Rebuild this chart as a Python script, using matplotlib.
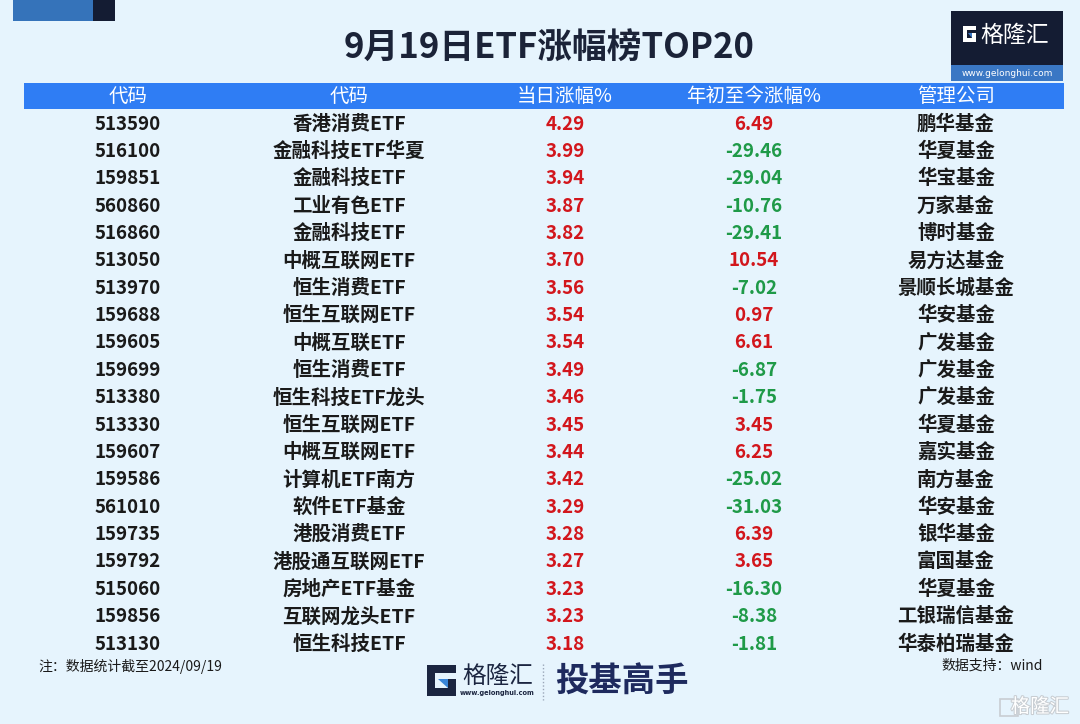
import matplotlib
matplotlib.use("Agg")
import matplotlib.pyplot as plt
from matplotlib.patches import Rectangle, Polygon
import matplotlib.patheffects as pe

plt.rcParams['font.family'] = ['Noto Sans CJK SC', 'DejaVu Sans']

title = "9月19日ETF涨幅榜TOP20"
headers = ["代码", "代码", "当日涨幅%", "年初至今涨幅%", "管理公司"]
codes = ["513590", "516100", "159851", "560860", "516860", "513050", "513970",
         "159688", "159605", "159699", "513380", "513330", "159607", "159586",
         "561010", "159735", "159792", "515060", "159856", "513130"]
names = ["香港消费ETF", "金融科技ETF华夏", "金融科技ETF", "工业有色ETF", "金融科技ETF",
         "中概互联网ETF", "恒生消费ETF", "恒生互联网ETF", "中概互联ETF", "恒生消费ETF",
         "恒生科技ETF龙头", "恒生互联网ETF", "中概互联网ETF", "计算机ETF南方", "软件ETF基金",
         "港股消费ETF", "港股通互联网ETF", "房地产ETF基金", "互联网龙头ETF", "恒生科技ETF"]
daily = [4.29, 3.99, 3.94, 3.87, 3.82, 3.70, 3.56, 3.54, 3.54, 3.49,
         3.46, 3.45, 3.44, 3.42, 3.29, 3.28, 3.27, 3.23, 3.23, 3.18]
ytd = [6.49, -29.46, -29.04, -10.76, -29.41, 10.54, -7.02, 0.97, 6.61, -6.87,
       -1.75, 3.45, 6.25, -25.02, -31.03, 6.39, 3.65, -16.30, -8.38, -1.81]
companies = ["鹏华基金", "华夏基金", "华宝基金", "万家基金", "博时基金", "易方达基金",
             "景顺长城基金", "华安基金", "广发基金", "广发基金", "广发基金", "华夏基金",
             "嘉实基金", "南方基金", "华安基金", "银华基金", "富国基金", "华夏基金",
             "工银瑞信基金", "华泰柏瑞基金"]
note = "注：数据统计截至2024/09/19"
source = "数据支持：wind"

BG = "#E6F4FD"
HEAD = "#2F7DF4"
NAVY = "#141C33"
TXT = "#1A1A1A"
RED = "#D2161C"
GREEN = "#1F9A48"

W, H = 1080, 724
fig = plt.figure(figsize=(W / 100, H / 100), dpi=100)
fig.patch.set_facecolor(BG)
ax = fig.add_axes([0, 0, 1, 1])
ax.set_xlim(0, W)
ax.set_ylim(H, 0)
ax.axis("off")
ax.set_facecolor(BG)

# top-left decoration
ax.add_patch(Rectangle((13, 0), 80, 21, color="#3573BA", lw=0))
ax.add_patch(Rectangle((93, 0), 22, 21, color=NAVY, lw=0))

# title
ax.text(549, 47, title, ha="center", va="center", fontsize=25,
        fontweight="bold", color="#1B2338")


def draw_g(x0, y0, w, h, dark, blue):
    t = 0.27 * w
    th = t * h / w
    ax.add_patch(Rectangle((x0, y0), w, th, color=dark, lw=0))
    ax.add_patch(Rectangle((x0, y0), t, h, color=dark, lw=0))
    ax.add_patch(Rectangle((x0, y0 + h - th), w, th, color=dark, lw=0))
    ax.add_patch(Rectangle((x0 + w - t, y0 + 0.45 * h), t, 0.55 * h, color=dark, lw=0))
    ax.add_patch(Polygon([(x0 + 0.38 * w, y0 + 0.45 * h), (x0 + w - t, y0 + 0.45 * h),
                          (x0 + w - t, y0 + h - th)], closed=True,
                         color=blue, lw=0))


# top-right logo
ax.add_patch(Rectangle((951, 11), 112, 54, color=NAVY, lw=0))
ax.add_patch(Rectangle((951, 65), 112, 16, color="#3A77C4", lw=0))
draw_g(963, 26, 13, 16, "white", "#3A77C4")
ax.text(1015, 35, "格隆汇", ha="center", va="center", fontsize=16.5,
        color="white", fontweight="medium")
ax.text(1007, 73, "www.gelonghui.com", ha="center", va="center",
        fontsize=6.5, color="white", family="DejaVu Sans")

# header bar
ax.add_patch(Rectangle((24, 83), 1040, 26, color=HEAD, lw=0))
col_x = [128, 349, 565, 754, 956]
for x, hd in zip(col_x, headers):
    ax.text(x, 96, hd, ha="center", va="center", fontsize=14, color="white")

# rows
y0, dy = 124, 27.37
for i in range(len(codes)):
    y = y0 + i * dy
    ax.text(col_x[0], y, codes[i], ha="center", va="center", fontsize=13.5,
            fontweight="bold", color=TXT)
    ax.text(col_x[1], y, names[i], ha="center", va="center", fontsize=14,
            fontweight="bold", color=TXT)
    ax.text(col_x[2], y, f"{daily[i]:.2f}", ha="center", va="center", fontsize=13.5,
            fontweight="bold", color=RED if daily[i] >= 0 else GREEN)
    ax.text(col_x[3], y, f"{ytd[i]:.2f}", ha="center", va="center", fontsize=13.5,
            fontweight="bold", color=RED if ytd[i] >= 0 else GREEN)
    ax.text(col_x[4], y, companies[i], ha="center", va="center", fontsize=14,
            fontweight="bold", color=TXT)

# footer
ax.text(38, 666, note, ha="left", va="center", fontsize=10, color=TXT)
ax.text(1043, 666, source, ha="right", va="center", fontsize=10, color=TXT)

# bottom center logo
draw_g(427, 665, 29, 31, "#1B2540", "#3A86D8")
ax.text(498, 676, "格隆汇", ha="center", va="center", fontsize=17, color="#1B2540")
ax.text(497, 693, "www.gelonghui.com", ha="center", va="center", fontsize=4.8,
        color="#1B2540", family="DejaVu Sans", fontweight="bold")
ax.plot([543, 543], [664, 700], color="#9AA6B8", lw=1, ls=(0, (1, 1.5)))
ax.text(622, 682, "投基高手", ha="center", va="center", fontsize=24,
        fontweight="black", color="#1E2A5E")

# bottom-right watermark
wm_fx = [pe.withStroke(linewidth=1.5, foreground="#C8CDD2")]
ax.text(1040, 707, "格隆汇", ha="center", va="center", fontsize=14,
        color="white", path_effects=wm_fx)
ax.add_patch(Rectangle((1000, 699), 18, 17, fill=False, ec="#C8CDD2", lw=1.2))

fig.savefig("out.png", dpi=100, facecolor=BG)
